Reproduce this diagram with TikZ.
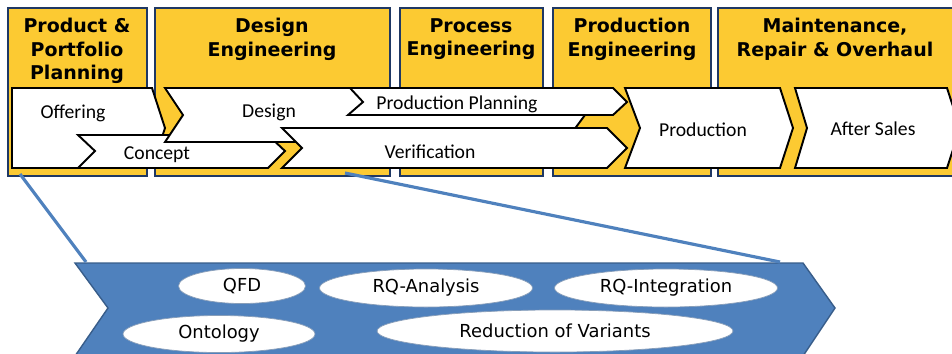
\documentclass[tikz,border=0pt]{standalone}
\usepackage{fontspec}
\setmainfont{Carlito}
\newfontfamily\headfont{DejaVu Sans}
\usepackage{tikz}
\usetikzlibrary{shapes.geometric}
\definecolor{phaseyellow}{RGB}{252,202,50}
\definecolor{phaseedge}{RGB}{31,56,100}
\definecolor{zoomblue}{RGB}{79,129,189}
\definecolor{zoomedge}{RGB}{56,93,138}
\tikzset{
  phase/.style={ draw=phaseedge, fill=phaseyellow, line width=0.8pt }
}
\tikzset{
  phasetitle/.style={ anchor=north, align=center, inner sep=0pt,
    font=\headfont\bfseries\fontsize{10.8}{13.3}\selectfont }
}
\tikzset{
  chev/.style={ draw=black, fill=white, line width=1.1pt }
}
\tikzset{
  chevtext/.style={ anchor=base, inner sep=0pt, font=\fontsize{11.2}{13}\selectfont }
}
\tikzset{
  method/.style={ draw=zoomedge!60, fill=white, ellipse, inner sep=0pt,
    font=\headfont\fontsize{10.2}{12}\selectfont }
}
\tikzset{
  zoomline/.style={ draw=zoomblue, line width=1.8pt }
}

\begin{document}
\begin{tikzpicture}[x=0.02cm, y=-0.02cm]
  \useasboundingbox (0,0) rectangle (952,353);

  % phases
  \draw[phase] (8,8) rectangle (147,176);
  \draw[phase] (155,8) rectangle (390,176);
  \draw[phase] (400,8) rectangle (543,176);
  \draw[phase] (553,8) rectangle (711,176);
  \draw[phase] (718,8) rectangle (960,176);

  \node[phasetitle] (hdPlan) at (77,18) {Product \&\\Portfolio\\Planning};
  \node[phasetitle] (hdDesign) at (272,18) {Design\\Engineering};
  \node[phasetitle] (hdProcess) at (471,18) {Process\\Engineering};
  \node[phasetitle] (hdProd) at (632,18) {Production\\Engineering};
  \node[phasetitle] (hdMRO) at (835,18) {Maintenance,\\Repair \& Overhaul};

  % process chevrons
  \draw[chev] (12,88) -- (152,88) -- (165,128) -- (152,168) -- (12,168) -- cycle;
  \draw[chev] (78,135) -- (268,135) -- (285,151) -- (268,168) -- (78,168) -- (95,151) -- cycle;
  \draw[chev] (165,88) -- (565,88) -- (585,115) -- (565,142) -- (165,142) -- (183,115) -- cycle;
  \draw[chev] (350,88) -- (613,88) -- (627,102) -- (613,115) -- (348,115) -- (363,102) -- cycle;
  \draw[chev] (282,128) -- (607,128) -- (627,148) -- (607,168) -- (282,168) -- (302,148) -- cycle;
  \draw[chev] (625,88) -- (780,88) -- (793,128) -- (780,168) -- (625,168) -- (640,128) -- cycle;
  \draw[chev] (795,88) -- (947,88) -- (960,128) -- (947,168) -- (795,168) -- (807,128) -- cycle;

  \node[chevtext] (offering) at (73,118) {Offering};
  \node[chevtext] (concept) at (157,159) {Concept};
  \node[chevtext] (design) at (269,117) {Design};
  \node[chevtext] (prodplan) at (457,109) {Production Planning};
  \node[chevtext] (verif) at (430,158) {Verification};
  \node[chevtext] (production) at (703,136) {Production};
  \node[chevtext] (aftersales) at (873,135) {After Sales};

  % zoom into early phases
  \draw[draw=zoomedge, fill=zoomblue, line width=0.8pt]
    (75,263) -- (803,263) -- (835,308) -- (803,356) -- (75,356) -- (108,308) -- cycle;

  \coordinate (zoomA) at (20,174);
  \coordinate (zoomB) at (345,173);
  \coordinate (zoomC) at (86,262);
  \coordinate (zoomD) at (780,262);
  \draw[zoomline] (zoomA) -- (zoomC);
  \draw[zoomline] (zoomB) -- (zoomD);

  \node[method, minimum width=2.54cm, minimum height=0.70cm] (qfd) at (242,286) {QFD};
  \node[method, minimum width=4.26cm, minimum height=0.76cm] (rqana) at (426,288) {RQ-Analysis};
  \node[method, minimum width=4.46cm, minimum height=0.76cm] (rqint) at (666,288) {RQ-Integration};
  \node[method, minimum width=3.84cm, minimum height=0.74cm] (onto) at (219,334) {Ontology};
  \node[method, minimum width=7.12cm, minimum height=0.84cm] (reduce) at (555,331) {Reduction of Variants};
\end{tikzpicture}
\end{document}
